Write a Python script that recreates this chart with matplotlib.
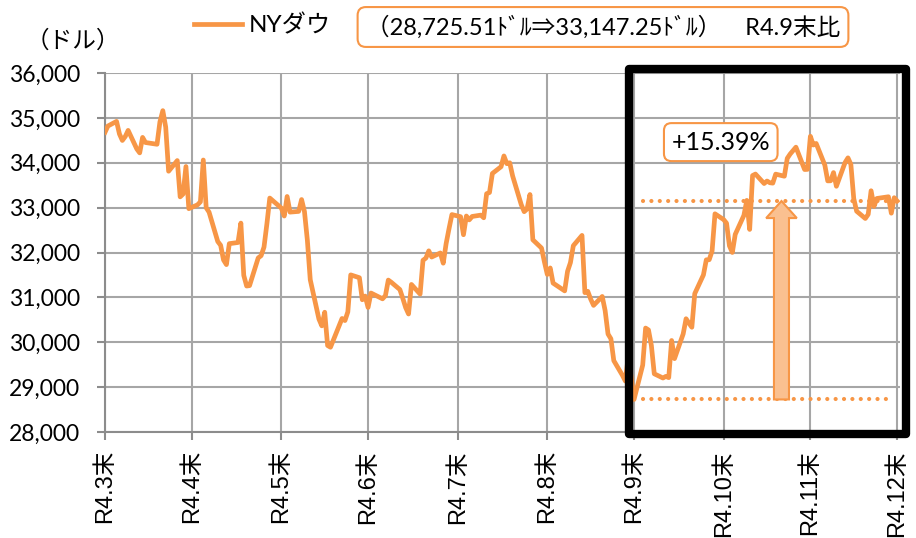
import matplotlib
matplotlib.use("Agg")
import matplotlib.pyplot as plt
import matplotlib.patches as patches
import matplotlib.dates as mdates
from matplotlib.ticker import FuncFormatter
import pandas as pd

# NY Dow daily closes, R4.3末 - R4.12末
dates = [
    '2022-03-31',
    '2022-04-01', '2022-04-04', '2022-04-05', '2022-04-06', '2022-04-07', '2022-04-08',
    '2022-04-11', '2022-04-12', '2022-04-13', '2022-04-14', '2022-04-18', '2022-04-19',
    '2022-04-20', '2022-04-21', '2022-04-22', '2022-04-25', '2022-04-26', '2022-04-27',
    '2022-04-28', '2022-04-29',
    '2022-05-02', '2022-05-03', '2022-05-04', '2022-05-05', '2022-05-06', '2022-05-09',
    '2022-05-10', '2022-05-11', '2022-05-12', '2022-05-13', '2022-05-16', '2022-05-17',
    '2022-05-18', '2022-05-19', '2022-05-20', '2022-05-23', '2022-05-24', '2022-05-25',
    '2022-05-26', '2022-05-27', '2022-05-31',
    '2022-06-01', '2022-06-02', '2022-06-03', '2022-06-06', '2022-06-07', '2022-06-08',
    '2022-06-09', '2022-06-10', '2022-06-13', '2022-06-14', '2022-06-15', '2022-06-16',
    '2022-06-17', '2022-06-21', '2022-06-22', '2022-06-23', '2022-06-24', '2022-06-27',
    '2022-06-28', '2022-06-29', '2022-06-30',
    '2022-07-01', '2022-07-05', '2022-07-06', '2022-07-07', '2022-07-08', '2022-07-11',
    '2022-07-12', '2022-07-13', '2022-07-14', '2022-07-15', '2022-07-18', '2022-07-19',
    '2022-07-20', '2022-07-21', '2022-07-22', '2022-07-25', '2022-07-26', '2022-07-27',
    '2022-07-28', '2022-07-29',
    '2022-08-01', '2022-08-02', '2022-08-03', '2022-08-04', '2022-08-05', '2022-08-08',
    '2022-08-09', '2022-08-10', '2022-08-11', '2022-08-12', '2022-08-15', '2022-08-16',
    '2022-08-17', '2022-08-18', '2022-08-19', '2022-08-22', '2022-08-23', '2022-08-24',
    '2022-08-25', '2022-08-26', '2022-08-29', '2022-08-30', '2022-08-31',
    '2022-09-01', '2022-09-02', '2022-09-06', '2022-09-07', '2022-09-08', '2022-09-09',
    '2022-09-12', '2022-09-13', '2022-09-14', '2022-09-15', '2022-09-16', '2022-09-19',
    '2022-09-20', '2022-09-21', '2022-09-22', '2022-09-23', '2022-09-26', '2022-09-27',
    '2022-09-28', '2022-09-29', '2022-09-30',
    '2022-10-03', '2022-10-04', '2022-10-05', '2022-10-06', '2022-10-07', '2022-10-10',
    '2022-10-11', '2022-10-12', '2022-10-13', '2022-10-14', '2022-10-17', '2022-10-18',
    '2022-10-19', '2022-10-20', '2022-10-21', '2022-10-24', '2022-10-25', '2022-10-26',
    '2022-10-27', '2022-10-28', '2022-10-31',
    '2022-11-01', '2022-11-02', '2022-11-03', '2022-11-04', '2022-11-07', '2022-11-08',
    '2022-11-09', '2022-11-10', '2022-11-11', '2022-11-14', '2022-11-15', '2022-11-16',
    '2022-11-17', '2022-11-18', '2022-11-21', '2022-11-22', '2022-11-23', '2022-11-25',
    '2022-11-28', '2022-11-29', '2022-11-30',
    '2022-12-01', '2022-12-02', '2022-12-05', '2022-12-06', '2022-12-07', '2022-12-08',
    '2022-12-09', '2022-12-12', '2022-12-13', '2022-12-14', '2022-12-15', '2022-12-16',
    '2022-12-19', '2022-12-20', '2022-12-21', '2022-12-22', '2022-12-23', '2022-12-27',
    '2022-12-28', '2022-12-29', '2022-12-30',
]
closes = [
    34678,
    34818, 34922, 34641, 34497, 34584, 34721,
    34308, 34220, 34565, 34451, 34412, 34911,
    35161, 34793, 33811, 34049, 33240, 33302,
    33916, 32977,
    33062, 33129, 34061, 32998, 32899, 32246,
    32161, 31834, 31730, 32197, 32223, 32655,
    31490, 31253, 31262, 31880, 31929, 32120,
    32637, 33213, 32990,
    32813, 33248, 32900, 32916, 33180, 32911,
    32273, 31393, 30517, 30365, 30669, 29927,
    29889, 30530, 30483, 30677, 31501, 31438,
    30947, 31029, 30775,
    31097, 30968, 31038, 31385, 31338, 31174,
    30981, 30773, 30630, 31288, 31073, 31827,
    31875, 32037, 31899, 31990, 31762, 32198,
    32530, 32845,
    32798, 32396, 32813, 32727, 32803, 32833,
    32774, 33310, 33337, 33761, 33912, 34152,
    33980, 33999, 33707, 33064, 32910, 32969,
    33292, 32283, 32099, 31791, 31510,
    31656, 31318, 31145, 31581, 31775, 32152,
    32381, 31105, 31135, 30962, 30822, 31020,
    30706, 30184, 30077, 29590, 29261, 29135,
    29684, 29226, 28725.51,
    29491, 30316, 30274, 29927, 29297, 29203,
    29239, 29211, 30039, 29635, 30186, 30524,
    30424, 30334, 31083, 31500, 31837, 31839,
    32033, 32862, 32733,
    32653, 32148, 32001, 32403, 32827, 33161,
    32514, 33715, 33748, 33537, 33593, 33554,
    33546, 33746, 33700, 34098, 34194, 34347,
    33849, 33853, 34590,
    34395, 34430, 33947, 33596, 33598, 33781,
    33476, 34005, 34109, 33966, 33202, 32920,
    32758, 32850, 33376, 33027, 33204, 33242,
    32876, 33221, 33147.25,
]
tick_dates = ['2022-03-31', '2022-04-30', '2022-05-31', '2022-06-30', '2022-07-31',
              '2022-08-31', '2022-09-30', '2022-10-31', '2022-11-30', '2022-12-30']
tick_labels = ['R4.3末', 'R4.4末', 'R4.5末', 'R4.6末', 'R4.7末',
               'R4.8末', 'R4.9末', 'R4.10末', 'R4.11末', 'R4.12末']
base_val = 28725.51
last_val = 33147.25
change_label = '+15.39%'

orange = '#F79646'
light_orange = '#FAC090'
grid_gray = '#A6A6A6'
jp_font = ['Lato', 'Noto Sans CJK JP']
tick_font = ['Liberation Sans', 'Noto Sans CJK JP']

plt.rcParams['font.family'] = jp_font

fig = plt.figure(figsize=(9.16, 5.38), dpi=100)
ax = fig.add_axes([105 / 916, 1 - 432 / 538, 795 / 916, 359 / 538])

x = pd.to_datetime(dates)
ax.plot(x, closes, color=orange, lw=3.4, label='NYダウ', solid_joinstyle='round', zorder=3)

ax.set_ylim(28000, 36000)
ax.set_yticks(range(28000, 36001, 1000))
ax.yaxis.set_major_formatter(FuncFormatter(lambda v, p: f'{v:,.0f}'))
ax.set_xlim(pd.Timestamp('2022-03-31'), pd.Timestamp('2022-12-31'))
ax.set_xticks(pd.to_datetime(tick_dates))
ax.set_xticklabels(tick_labels, rotation=90, family=tick_font, fontsize=17)
for lab in ax.get_yticklabels():
    lab.set_fontsize(16.5)

ax.grid(color=grid_gray, lw=1.5)
ax.set_axisbelow(True)
for s in ['top', 'right']:
    ax.spines[s].set_visible(False)
for s in ['left', 'bottom']:
    ax.spines[s].set_color('#8C8C8C')
    ax.spines[s].set_linewidth(1.5)
ax.tick_params(axis='y', length=6, width=1.5, color='#8C8C8C', pad=12)
ax.tick_params(axis='x', length=6, width=1.5, color='#8C8C8C', pad=7)

# dotted reference lines
d0, d1 = pd.Timestamp('2022-10-03'), pd.Timestamp('2022-12-29')
for v in (base_val, last_val):
    ax.plot([d0, d1], [v, v], color=orange, lw=3, linestyle=(0, (0.01, 2.0)),
            dash_capstyle='round', zorder=2)

# rise arrow
xa = mdates.date2num(pd.Timestamp('2022-11-20'))
ax.add_patch(patches.FancyArrow(xa, base_val, 0, last_val - base_val, width=5.2,
                                head_width=10.6, head_length=380,
                                length_includes_head=True, fc=light_orange,
                                ec=orange, lw=1.5, zorder=4))

ax.text(pd.Timestamp('2022-10-30'), 34460, change_label, ha='center', va='center',
        fontsize=18, zorder=5,
        bbox=dict(boxstyle='round,pad=0.3', fc='white', ec=orange, lw=1.5))

# highlight frame
fig.add_artist(patches.Rectangle((629 / 916, 1 - 434 / 538), (906 - 629) / 916,
                                 (434 - 69) / 538, transform=fig.transFigure,
                                 fill=False, ec='black', lw=6, joinstyle='round',
                                 zorder=10))

fig.text(26 / 916, 1 - 40 / 538, '（ドル）', fontsize=17, va='center', ha='left')
fig.legend(loc='center left', bbox_to_anchor=(172 / 916, 1 - 25 / 538), frameon=False,
           handlelength=2.0, handletextpad=0.25, fontsize=17.5)
fig.text(603 / 916, 1 - 27 / 538, '（28,725.51ﾄﾞﾙ⇒33,147.25ﾄﾞﾙ）    R4.9末比',
         fontsize=17, ha='center', va='center',
         bbox=dict(boxstyle='round,pad=0.35', fc='white', ec=orange, lw=1.5))

fig.savefig('out.png', dpi=100)
